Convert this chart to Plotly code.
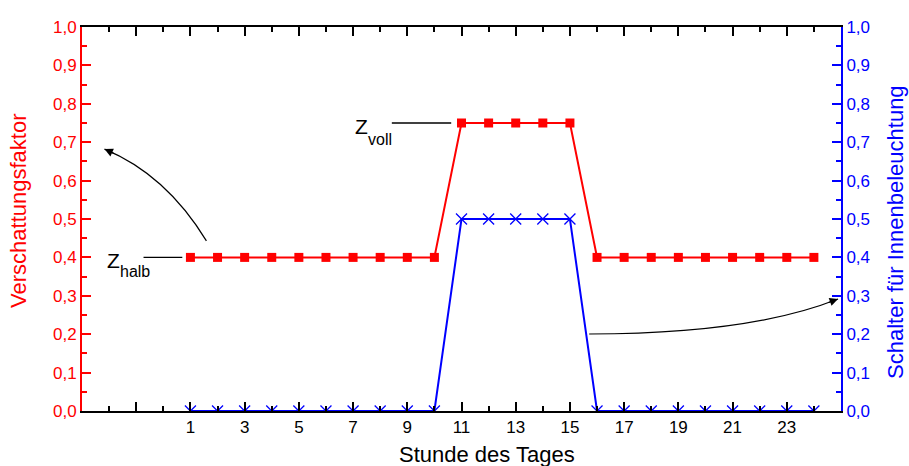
import plotly.graph_objects as go

hours = list(range(1, 25))
verschattung = [0.4] * 10 + [0.75] * 5 + [0.4] * 9
schalter = [0.0] * 10 + [0.5] * 5 + [0.0] * 9

x_tickvals = [-1, 1, 3, 5, 7, 9, 11, 13, 15, 17, 19, 21, 23]
x_ticktext = ["", "1", "3", "5", "7", "9", "11", "13", "15", "17", "19", "21", "23"]

RED = "#ff0000"
BLUE = "#0000ff"
FONT = "Liberation Sans, Arial, sans-serif"

fig = go.Figure()
fig.add_trace(go.Scatter(
    x=hours, y=verschattung, mode="lines+markers",
    line=dict(color=RED, width=2),
    marker=dict(symbol="square", size=9, color=RED),
    yaxis="y", showlegend=False))
fig.add_trace(go.Scatter(
    x=hours, y=schalter, mode="lines+markers",
    line=dict(color=BLUE, width=2),
    marker=dict(symbol="x-thin", size=11, line=dict(color=BLUE, width=1.3)),
    yaxis="y2", showlegend=False))

fig.update_layout(
    width=909, height=466,
    margin=dict(l=82, r=68, t=27, b=55, autoexpand=False),
    plot_bgcolor="white", paper_bgcolor="white",
    separators=",.",
    font=dict(family=FONT, size=17, color="black"),
    xaxis=dict(
        range=[-3, 25], tickvals=x_tickvals, ticktext=x_ticktext,
        ticks="inside", ticklen=9, tickwidth=2, tickcolor="black",
        showline=True, linecolor="black", linewidth=2, mirror="ticks",
        showgrid=False, zeroline=False, automargin=False,
        minor=dict(tickvals=list(range(-2, 25, 2)), ticks="inside", ticklen=5,
                   tickwidth=2, tickcolor="black", showgrid=False),
        tickfont=dict(size=17, color="black"),
    ),
    yaxis=dict(
        range=[0, 1.0], dtick=0.1, tick0=0, tickformat=".1f",
        ticks="inside", ticklen=9, tickwidth=2, tickcolor=RED,
        showline=True, linecolor=RED, linewidth=2,
        showgrid=False, zeroline=False, automargin=False,
        minor=dict(dtick=0.05, tick0=0, ticks="inside", ticklen=5, tickwidth=2,
                   tickcolor=RED, showgrid=False),
        tickfont=dict(size=17, color=RED),
    ),
    yaxis2=dict(
        range=[0, 1.0], dtick=0.1, tick0=0, tickformat=".1f",
        overlaying="y", side="right", anchor="x",
        ticks="inside", ticklen=9, tickwidth=2, tickcolor=BLUE,
        showline=True, linecolor=BLUE, linewidth=2,
        showgrid=False, zeroline=False, automargin=False,
        minor=dict(dtick=0.05, tick0=0, ticks="inside", ticklen=5, tickwidth=2,
                   tickcolor=BLUE, showgrid=False),
        tickfont=dict(size=17, color=BLUE),
    ),
)

# axis titles as annotations for precise placement
fig.add_annotation(x=0.534, y=-0.113, xref="paper", yref="paper", text="Stunde des Tages",
                   showarrow=False, xanchor="center", yanchor="middle",
                   font=dict(size=22, color="black"))
fig.add_annotation(x=-0.083, y=0.521, xref="paper", yref="paper", text="Verschattungsfaktor",
                   showarrow=False, xanchor="center", yanchor="middle", textangle=-90,
                   font=dict(size=22, color=RED))
fig.add_annotation(x=1.071, y=0.466, xref="paper", yref="paper",
                   text="Schalter für Innenbeleuchtung",
                   showarrow=False, xanchor="center", yanchor="middle", textangle=-90,
                   font=dict(size=22, color=BLUE))

# leader lines for labels
fig.add_shape(type="line", xref="x", yref="y", x0=-0.73, y0=0.4, x1=0.70, y1=0.4,
              line=dict(color="black", width=1.3))
fig.add_shape(type="line", xref="x", yref="y", x0=8.43, y0=0.75, x1=10.62, y1=0.75,
              line=dict(color="black", width=1.3))

# curved arrows
fig.add_shape(type="path", xref="x", yref="y",
              path="M 1.59,0.443 Q 0.10,0.616 -2.17,0.682",
              line=dict(color="black", width=1.2))
fig.add_shape(type="path", xref="x", yref="y",
              path="M 15.71,0.2005 Q 21.65,0.2005 24.89,0.2917",
              line=dict(color="black", width=1.2))

fig.add_annotation(x=-2.17, y=0.682, xref="x", yref="y", ax=11, ay=5, text="",
                   showarrow=True, arrowhead=2, arrowsize=1.4, arrowwidth=1.2,
                   arrowcolor="black", standoff=0)
fig.add_annotation(x=24.89, y=0.2917, xref="x", yref="y", ax=-11, ay=4, text="",
                   showarrow=True, arrowhead=2, arrowsize=1.4, arrowwidth=1.2,
                   arrowcolor="black", standoff=0)

# labels
fig.add_annotation(x=-1.84, y=0.393, xref="x", yref="y", text="Z", showarrow=False,
                   xanchor="center", yanchor="middle", font=dict(size=21, color="black"))
fig.add_annotation(x=-1.03, y=0.364, xref="x", yref="y", text="halb", showarrow=False,
                   xanchor="center", yanchor="middle", font=dict(size=16, color="black"))
fig.add_annotation(x=7.30, y=0.742, xref="x", yref="y", text="Z", showarrow=False,
                   xanchor="center", yanchor="middle", font=dict(size=21, color="black"))
fig.add_annotation(x=8.0, y=0.706, xref="x", yref="y", text="voll", showarrow=False,
                   xanchor="center", yanchor="middle", font=dict(size=16, color="black"))

fig.write_html(
    "out.html",
    config={"displayModeBar": False},
    post_script="document.body.style.margin='0';document.body.style.overflow='hidden';",
)
